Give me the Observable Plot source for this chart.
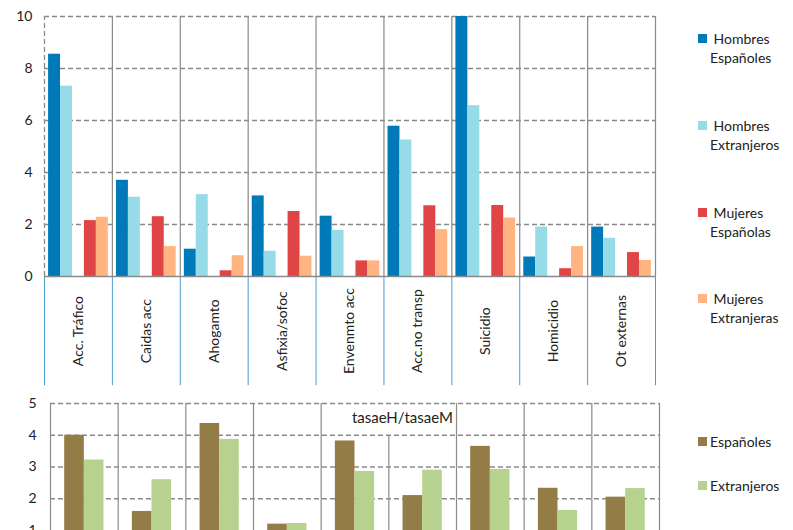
<!DOCTYPE html>
<html>
<head>
<meta charset="UTF-8">
<style>
  body { margin: 0; background: white; font-family: Lato, sans-serif; }
  #wrap { position: relative; width: 793px; height: 530px; overflow: hidden; }
  #top, #bottom { position: absolute; left: 0; }
  #top { top: 0; }
  #bottom { top: 390px; }
  .leg { position: absolute; font-size: 14px; color: #222; line-height: 19px; }
  .leg i { position: absolute; left: -12px; top: 5px; width: 9px; height: 9px; }
</style>
</head>
<body>
<div id="wrap">
  <div id="top"></div>
  <div id="bottom"></div>
</div>
<script src="https://cdn.jsdelivr.net/npm/d3@7"></script>
<script src="https://cdn.jsdelivr.net/npm/@observablehq/plot@0.6"></script>
<script>
const categories = ["Acc. Tráfico", "Caidas acc", "Ahogamto", "Asfixia/sofoc", "Envenmto acc", "Acc.no transp", "Suicidio", "Homicidio", "Ot externas"];
const series = ["Hombres Españoles", "Hombres Extranjeros", "Mujeres Españolas", "Mujeres Extranjeras"];
const colors = ["#0079b8", "#95dce8", "#e04444", "#ffb482"];
const hombresEsp = [8.55, 3.7, 1.05, 3.1, 2.32, 5.78, 10.0, 0.75, 1.9];
const hombresExt = [7.32, 3.05, 3.15, 0.97, 1.77, 5.25, 6.57, 1.9, 1.47];
const mujeresEsp = [2.15, 2.3, 0.22, 2.5, 0.6, 2.72, 2.73, 0.3, 0.92];
const mujeresExt = [2.28, 1.15, 0.8, 0.78, 0.6, 1.8, 2.25, 1.15, 0.62];

const ratioSeries = ["Españoles", "Extranjeros"];
const ratioColors = ["#937c46", "#b7d28f"];
const ratioEsp = [4.0, 1.6, 4.37, 1.2, 3.82, 2.1, 3.65, 2.33, 2.05];
const ratioExt = [3.22, 2.6, 3.87, 1.22, 2.86, 2.9, 2.92, 1.63, 2.32];

// slot within a category: 5 slots, third one empty
const slots = [0, 1, 3, 4];
const topRows = [];
[hombresEsp, hombresExt, mujeresEsp, mujeresExt].forEach((vals, s) =>
  vals.forEach((v, i) => topRows.push({i, s, v, x1: i + 0.06 + slots[s] * 0.176, x2: i + 0.06 + (slots[s] + 1) * 0.176}))
);
const botRows = [];
[ratioEsp, ratioExt].forEach((vals, s) =>
  vals.forEach((v, i) => botRows.push({i, s, v, x1: i + 0.21 + s * 0.29, x2: i + 0.21 + (s + 1) * 0.29}))
);
const idx = d3.range(categories.length + 1);
const grey = "#8a8a8a";

const topChart = Plot.plot({
  width: 793, height: 390,
  marginLeft: 44, marginRight: 138, marginTop: 16, marginBottom: 114,
  style: {fontFamily: "Lato, sans-serif", fontSize: "14px", color: "#222", overflow: "visible"},
  x: {domain: [0, 9], axis: null},
  y: {domain: [0, 10], ticks: [0, 2, 4, 6, 8, 10], tickSize: 0, tickPadding: 12, label: null},
  marks: [
    Plot.ruleY([2, 4, 6, 8, 10], {stroke: grey, strokeWidth: 1.3, strokeDasharray: "5,3"}),
    Plot.ruleX(idx.slice(1), {y1: 0, y2: 10, stroke: grey, strokeWidth: 1.2}),
    Plot.ruleX(idx, {y1: -4.2, y2: 0, stroke: "#4a9bd0", strokeWidth: 1}),
    Plot.ruleX([0], {y1: 0, y2: 10, stroke: grey, strokeWidth: 1.3, strokeDasharray: "5,3"}),
    Plot.rectY(topRows, {x1: "x1", x2: "x2", y1: 0, y2: "v", fill: d => colors[d.s]}),
    Plot.ruleY([0], {stroke: grey, strokeWidth: 1.5}),
    Plot.text(categories, {x: (d, i) => i + 0.5, y: -2.1, text: d => d, rotate: -90, fontSize: 14, fill: "#222"})
  ]
});
document.querySelector("#top").append(topChart);

const bottomChart = Plot.plot({
  width: 793, height: 145,
  marginLeft: 50, marginRight: 134, marginTop: 13, marginBottom: 5,
  style: {fontFamily: "Lato, sans-serif", fontSize: "14px", color: "#222", overflow: "visible"},
  x: {domain: [0, 9], axis: null},
  y: {domain: [1, 5], ticks: [1, 2, 3, 4, 5], tickFormat: "d", tickSize: 0, tickPadding: 14, label: null},
  marks: [
    Plot.ruleY([2, 3, 4, 5], {stroke: grey, strokeWidth: 1.3, strokeDasharray: "5,3"}),
    Plot.ruleX(idx.filter(i => i !== 5), {y1: 0.8, y2: 5, stroke: grey, strokeWidth: 1.2}),
    Plot.ruleX([5], {y1: 0.8, y2: 4, stroke: grey, strokeWidth: 1.2}),
    Plot.rectY(botRows, {x1: "x1", x2: "x2", y1: 0.8, y2: "v", fill: d => ratioColors[d.s]}),
    Plot.text(["tasaeH/tasaeM"], {x: 5.2, y: 4.55, fontSize: 15, fill: "#222"})
  ]
});
document.querySelector("#bottom").append(bottomChart);

// legends
const wrap = document.querySelector("#wrap");
const addLeg = (label, color, x, y) => {
  const d = document.createElement("div");
  d.className = "leg";
  d.style.left = x + "px"; d.style.top = y + "px";
  d.innerHTML = `<i style="background:${color}"></i>` + label;
  wrap.append(d);
};
const legTops = [29, 116, 203, 289];
series.forEach((s, k) => {
  const [a, b] = s.split(" ");
  addLeg(`&nbsp;${a}<br>${b}`, colors[k], 710, legTops[k]);
});
ratioSeries.forEach((s, k) => addLeg(s, ratioColors[k], 710, 432 + k * 44));
</script>
</body>
</html>
